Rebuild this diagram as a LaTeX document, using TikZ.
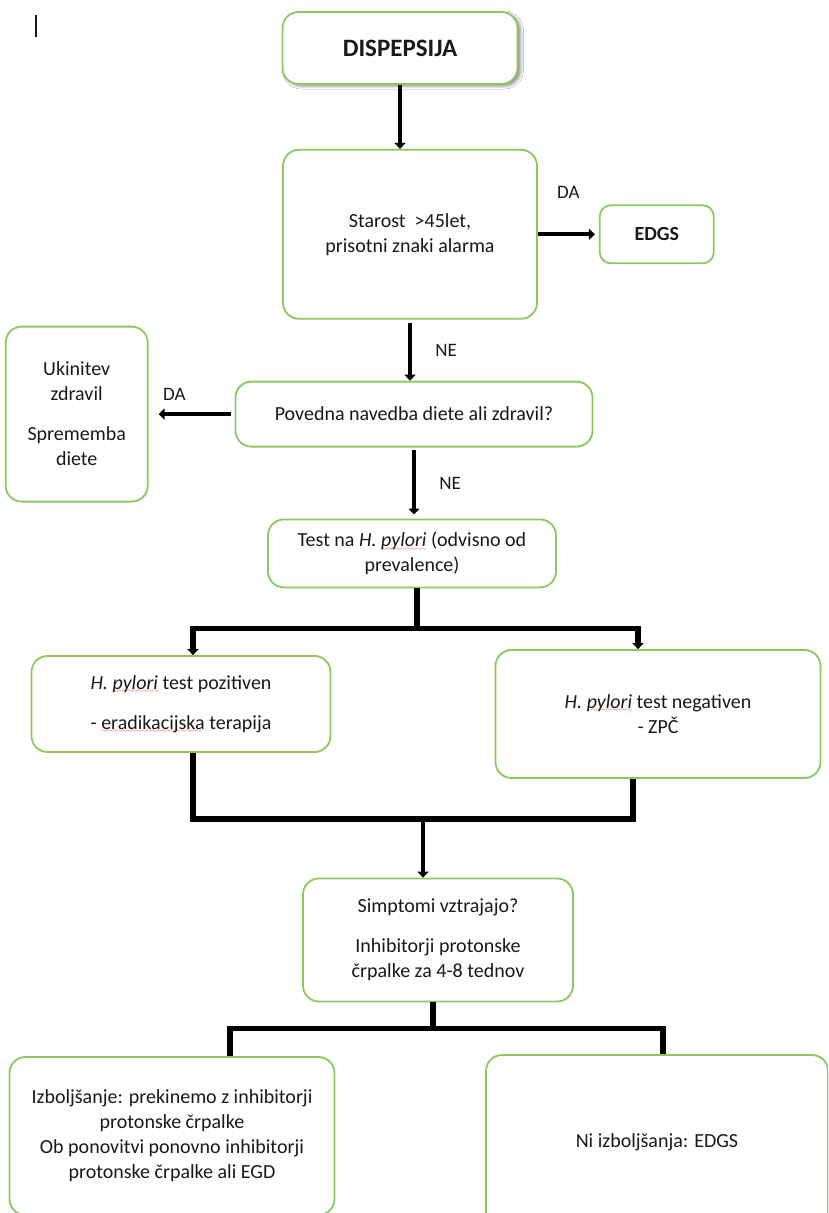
\documentclass[tikz,border=0pt]{standalone}
\usepackage{fontspec}
\setmainfont{Carlito}
\usetikzlibrary{arrows.meta, positioning, shadows.blur}

\definecolor{boxgreen}{RGB}{140,200,95}
\definecolor{textgray}{RGB}{25,25,25}

% red spell-check wave under a word
\font\wavefont=lasy6
\newcommand{\redwave}[1]{\setbox0\hbox{#1}\rlap{\textcolor{red}{\lower3.5pt\hbox to\wd0{\leaders\hbox{\wavefont\char58}\hfil}}}\box0\relax}
\newcommand{\hpyl}{\textit{H. \redwave{pylori}}}

\begin{document}
\begin{tikzpicture}[
    x=1pt, y=-1pt,
    every node/.style={font=\fontsize{20}{25}\selectfont, text=textgray},
    box/.style={rectangle, rounded corners=16pt, draw=boxgreen, line width=1.8pt, fill=white, align=center, inner sep=4pt},
    arrow/.style={line width=4pt, -{Triangle[length=6pt,width=11pt]}},
    branch/.style={line width=5.5pt, -{Triangle[length=6pt,width=11pt]}},
    bar/.style={line width=5.5pt},
    lbl/.style={font=\fontsize{19}{23}\selectfont}
]
\clip (0,0) rectangle (828,1213);
\fill[white] (0,0) rectangle (828,1213);

% Nodes
\node (dis) [box, minimum width=235pt, minimum height=72pt, font=\fontsize{25}{30}\selectfont\bfseries,
    blur shadow={shadow xshift=3pt, shadow yshift=-2pt, shadow blur radius=3pt, shadow opacity=45}] at (400,48) {DISPEPSIJA};
\node (age) [box, minimum width=254pt, minimum height=169pt, below=64pt of dis, xshift=10pt] {Starost\ \ >45let,\\prisotni znaki alarma};
\node (edgs) [box, rounded corners=11pt, minimum width=114pt, minimum height=58pt, right=61pt of age, font=\fontsize{20}{25}\selectfont\bfseries] {EDGS};
\node (diet) [box, minimum width=357pt, minimum height=65pt, below=61pt of age, xshift=4pt] {Povedna navedba diete ali zdravil?};
\node (stop) [box, minimum width=142pt, minimum height=175pt, left=86pt of diet] {Ukinitev\\zdravil\\[15pt]Sprememba\\diete};
\node (test) [box, minimum width=288pt, minimum height=68pt, below=71pt of diet, xshift=-2pt] {Test na \hpyl{} (odvisno od\\prevalence)};
\node (pos) [box, minimum width=299pt, minimum height=96pt] at (181,704) {\hpyl{} test pozitiven\\[15pt]- \redwave{eradikacijska} terapija};
\node (neg) [box, minimum width=325pt, minimum height=128pt] at (658,714) {\hpyl{} test negativen\\- ZPČ};
\node (sym) [box, minimum width=270pt, minimum height=123pt] at (438,940) {Simptomi vztrajajo?\\[15pt]Inhibitorji protonske\\črpalke za 4-8 tednov};
\node (imp) [box, minimum width=325pt, minimum height=158pt] at (172,1136) {Izboljšanje: prekinemo z inhibitorji\\protonske črpalke\\Ob ponovitvi ponovno inhibitorji\\protonske črpalke ali EGD};
\node (noimp) [box, minimum width=342pt, minimum height=174pt] at (657,1142) {Ni izboljšanja: EDGS};

% Connections
\draw [arrow] (dis.south) -- (dis.south |- age.north);
\draw [arrow, shorten >=4pt] (age.east) -- node[lbl, above=30pt] {DA} (edgs.west);
\draw [arrow, shorten <=3pt] (age.south) -- node[lbl, right=20pt] {NE} (age.south |- diet.north);
\draw [arrow, shorten <=4pt, shorten >=10pt] (diet.west) -- node[lbl, above=8pt, pos=0.7] {DA} (stop.east);
\draw [arrow, shorten <=2pt, shorten >=4pt] (diet.south) -- node[lbl, right=20pt] {NE} (diet.south |- test.north);

\draw [bar] ([xshift=5pt]test.south) -- ++(0,40) coordinate (split);
\draw [branch] (split) -| ([xshift=12pt]pos.north);
\draw [branch] (split) -| ([xshift=-20pt]neg.north);

\coordinate (merge) at (423,819);
\draw [bar] ([xshift=12pt]pos.south) |- (merge) -| ([xshift=-25pt]neg.south);
\draw [arrow] (merge) -- (merge |- sym.north);

\draw [bar] ([xshift=-5pt]sym.south) -- ++(0,26) coordinate (fork);
\draw [bar] (fork) -| ([xshift=58pt]imp.north);
\draw [bar] (fork) -| ([xshift=6pt]noimp.north);

% cursor mark
\draw [line width=1.3pt, textgray] (36,15) -- (36,37);

\end{tikzpicture}
\end{document}
